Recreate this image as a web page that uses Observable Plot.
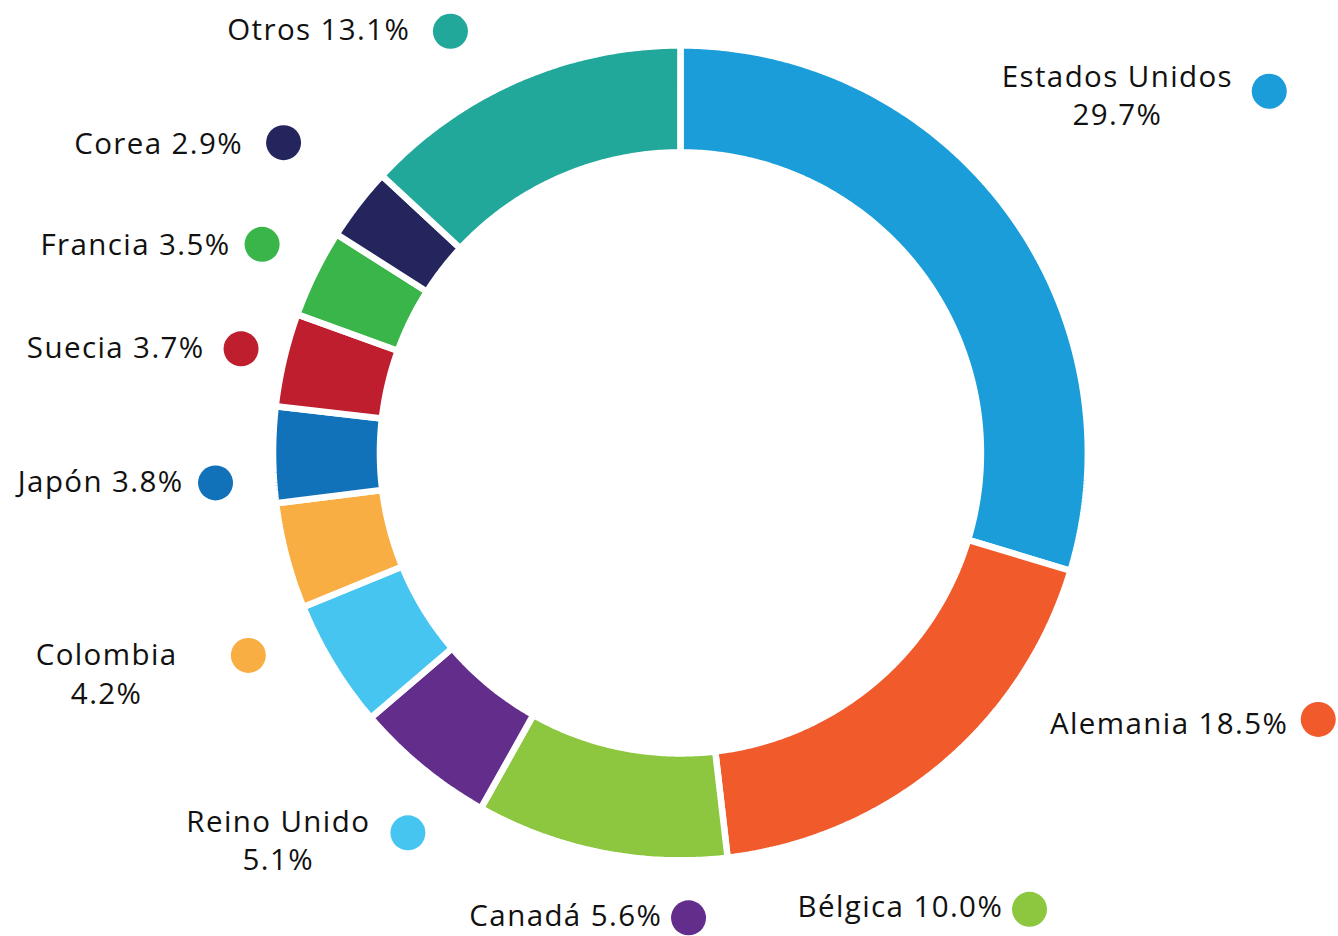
<!DOCTYPE html>
<html>
<head>
<meta charset="utf-8">
<script src="https://cdn.jsdelivr.net/npm/d3@7"></script>
<script src="https://cdn.jsdelivr.net/npm/@observablehq/plot@0.6"></script>
<style>
  html, body { margin: 0; padding: 0; background: #ffffff; overflow: hidden; }
  #chart svg { display: block; }
</style>
</head>
<body>
<div id="chart"></div>
<script>
// ---- Data ----
const countries = ["Estados Unidos", "Alemania", "Bélgica", "Canadá", "Reino Unido", "Colombia", "Japón", "Suecia", "Francia", "Corea", "Otros"];
const shares = [29.7, 18.5, 10.0, 5.6, 5.1, 4.2, 3.8, 3.7, 3.5, 2.9, 13.1];
const colors = ["#1b9dd9", "#f15a2b", "#8dc63f", "#632d8b", "#47c5f1", "#f8ae42", "#1172ba", "#be1e2d", "#3ab54a", "#25255e", "#22a79b"];
const twoLineLabels = ["Estados Unidos", "Reino Unido", "Colombia"];

// ---- Label layout (chart units, outer radius = 1) ----
const dotX = [1.454, 1.575, 0.862, 0.020, -0.673, -1.067, -1.148, -1.085, -1.033, -0.980, -0.568];
const dotY = [0.893, -0.658, -1.127, -1.148, -0.938, -0.500, -0.074, 0.257, 0.515, 0.766, 1.041];
const labelX = [1.079, 1.501, 0.797, -0.045, -0.993, -1.417, -1.227, -1.175, -1.111, -1.080, -0.667];
const labelY = [0.809, -0.695, -1.146, -1.168, -1.031, -0.619, -0.097, 0.235, 0.489, 0.739, 1.019];
const labelAnchor = ["middle", "end", "end", "end", "middle", "middle", "end", "end", "end", "end", "end"];

const R_OUT = 1.006, R_IN = 0.742;

// Ring slices as closed polygons (angle measured clockwise from 12 o'clock)
const total = d3.sum(shares);
const ring = [];
let acc = 0;
countries.forEach((name, i) => {
  const a0 = acc / total * 2 * Math.PI;
  acc += shares[i];
  const a1 = acc / total * 2 * Math.PI;
  const n = Math.max(2, Math.ceil((a1 - a0) / (Math.PI / 360)));
  for (let k = 0; k <= n; ++k) {
    const a = a0 + (a1 - a0) * k / n;
    ring.push({name, x: R_OUT * Math.sin(a), y: R_OUT * Math.cos(a)});
  }
  for (let k = n; k >= 0; --k) {
    const a = a0 + (a1 - a0) * k / n;
    ring.push({name, x: R_IN * Math.sin(a), y: R_IN * Math.cos(a)});
  }
});

const labels = countries.map((name, i) => ({
  name,
  text: name + (twoLineLabels.includes(name) ? "\n" : " ") + shares[i].toFixed(1) + "%",
  dx: dotX[i], dy: dotY[i], lx: labelX[i], ly: labelY[i], anchor: labelAnchor[i]
}));

const chart = Plot.plot({
  width: 1338,
  height: 936,
  margin: 0,
  x: {domain: [-1.679, 1.625], axis: null},
  y: {domain: [-1.194, 1.117], axis: null},
  color: {domain: countries, range: colors},
  style: {background: "#ffffff", fontFamily: "'Open Sans', Lato, sans-serif", letterSpacing: "1.4px"},
  marks: [
    Plot.line(ring, {x: "x", y: "y", z: "name", fill: "name", stroke: "white", strokeWidth: 6.5, strokeLinejoin: "miter", curve: "linear-closed"}),
    Plot.dot(labels, {x: "dx", y: "dy", r: 17.5, fill: "name", stroke: null}),
    Plot.text(labels.filter(d => d.anchor === "end"), {x: "lx", y: "ly", text: "text", textAnchor: "end", lineAnchor: "bottom", lineHeight: 1.3, fontSize: 29.5, fill: "#111111"}),
    Plot.text(labels.filter(d => d.anchor === "middle"), {x: "lx", y: "ly", text: "text", textAnchor: "middle", lineAnchor: "bottom", lineHeight: 1.3, fontSize: 29.5, fill: "#111111"})
  ]
});
document.getElementById("chart").appendChild(chart);
</script>
</body>
</html>
